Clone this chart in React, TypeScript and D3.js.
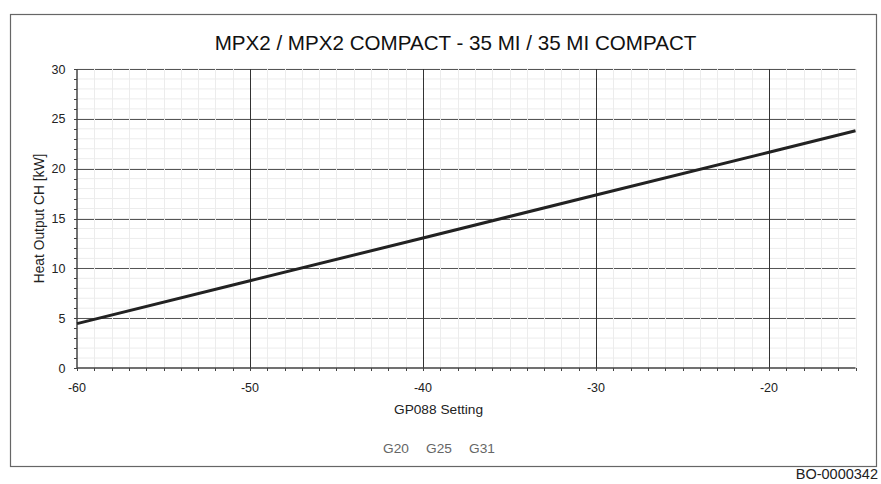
import React from "react";
import * as d3 from "d3";

const title = "MPX2 / MPX2 COMPACT - 35 MI / 35 MI COMPACT";
const xLabel = "GP088 Setting";
const yLabel = "Heat Output CH [kW]";
const legendItems = ["G20", "G25", "G31"];
const xTicks = [-60, -50, -40, -30, -20];
const yTicks = [0, 5, 10, 15, 20, 25, 30];
const settings = [-60, -50, -40, -30, -20, -15];
const output = [4.45, 8.75, 13.05, 17.35, 21.65, 23.8];
const code = "BO-0000342";

export default function App() {
  const W = 881, H = 484;
  const x = d3.scaleLinear().domain([-60, -15]).range([77, 855.5]);
  const y = d3.scaleLinear().domain([0, 30]).range([368, 69]);
  const minorX = d3.range(-60, -14, 1);
  const minorY = d3.range(0, 31, 1);
  const line = d3.line<number>().x((_, i) => x(settings[i])).y((d) => y(d));
  const font = "Liberation Sans, Arial, sans-serif";
  return (
    <svg width={W} height={H} style={{ position: "absolute", left: 0, top: 0, background: "#fff" }} fontFamily={font}>
      <rect x={10.5} y={14.5} width={866} height={452} fill="#fff" stroke="#666" strokeWidth={1.2} />
      <text x={455.5} y={49.5} textAnchor="middle" fontSize={20.6} fill="#111">{title}</text>
      {minorY.map((v) => (
        <line key={"my" + v} x1={x(-60)} x2={x(-15)} y1={y(v)} y2={y(v)} stroke="#ececec" strokeWidth={1} />
      ))}
      {yTicks.filter((v) => v > 0).map((v) => (
        <line key={"My" + v} x1={x(-60)} x2={x(-15)} y1={Math.round(y(v)) + 0.5} y2={Math.round(y(v)) + 0.5} stroke="#555" strokeWidth={1} />
      ))}
      {minorX.filter((v) => v % 10 !== 0).map((v) => (
        <line key={"mx" + v} x1={Math.round(x(v)) + 0.5} x2={Math.round(x(v)) + 0.5} y1={y(30)} y2={y(0)} stroke="#ececec" strokeWidth={1} />
      ))}
      {xTicks.filter((v) => v > -60).map((v) => (
        <line key={"Mx" + v} x1={Math.round(x(v)) + 0.5} x2={Math.round(x(v)) + 0.5} y1={y(30)} y2={y(0)} stroke="#333" strokeWidth={1} />
      ))}
      <line x1={x(-60)} x2={x(-60)} y1={y(30)} y2={y(0)} stroke="#444" strokeWidth={1.5} />
      <line x1={x(-60)} x2={x(-15)} y1={y(0)} y2={y(0)} stroke="#444" strokeWidth={1.5} />
      {minorY.map((v) => (
        <line key={"ty" + v} x1={x(-60) - 3} x2={x(-60)} y1={Math.round(y(v)) + 0.5} y2={Math.round(y(v)) + 0.5} stroke="#444" strokeWidth={1} />
      ))}
      {minorX.map((v) => (
        <line key={"tx" + v} x1={Math.round(x(v)) + 0.5} x2={Math.round(x(v)) + 0.5} y1={y(0)} y2={y(0) + 3} stroke="#444" strokeWidth={1} />
      ))}
      {yTicks.map((v) => (
        <text key={"yl" + v} x={65.5} y={y(v) + 4.5} textAnchor="end" fontSize={12.5} fill="#222">{v}</text>
      ))}
      {xTicks.map((v) => (
        <text key={"xl" + v} x={x(v)} y={391.5} textAnchor="middle" fontSize={12.5} fill="#222">{v}</text>
      ))}
      <path d={line(output) || ""} fill="none" stroke="#222" strokeWidth={3} />
      <text x={438.5} y={413.5} textAnchor="middle" fontSize={13.7} fill="#222">{xLabel}</text>
      <text transform={`translate(44,218.5) rotate(-90)`} textAnchor="middle" fontSize={13.8} fill="#222">{yLabel}</text>
      {legendItems.map((g, i) => (
        <text key={g} x={396 + i * 43} y={453} textAnchor="middle" fontSize={13.7} fill="#666">{g}</text>
      ))}
      <text x={878} y={479} textAnchor="end" fontSize={14.5} fill="#222">{code}</text>
    </svg>
  );
}
